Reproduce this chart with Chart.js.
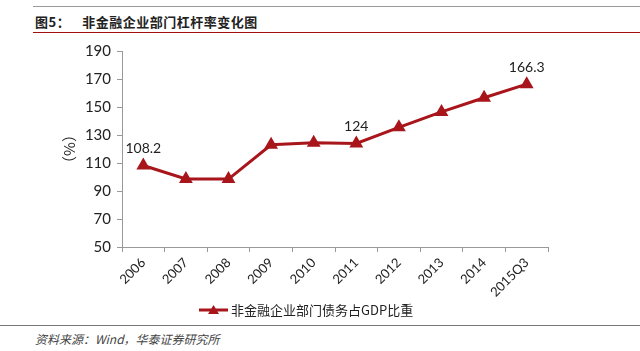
<!DOCTYPE html>
<html>
<head>
<meta charset="utf-8">
<script src="https://cdn.jsdelivr.net/npm/chart.js@4"></script>
<style>
body { margin:0; width:640px; height:351px; background:#fff; position:relative; overflow:hidden; font-family:"Noto Sans CJK SC", sans-serif; }
#topline { position:absolute; left:33px; right:0; top:6px; height:1px; background:#9a9a9a; }
#title { position:absolute; left:35px; top:12px; font-size:13px; font-weight:bold; color:#222; letter-spacing:0.5px; }
#title span { margin-left:12px; }
#redline { position:absolute; left:33px; right:0; top:32px; height:1px; background:#a01010; }
#box { position:absolute; left:0; top:36px; width:640px; height:290px; }
#botline { position:absolute; left:0; right:0; top:325px; height:1px; background:#777; }
#source { position:absolute; left:35px; top:330px; font-size:12px; font-style:italic; color:#444; }
</style>
</head>
<body>
<div id="topline"></div>
<div id="title">图5：<span>非金融企业部门杠杆率变化图</span></div>
<div id="redline"></div>
<div id="box"><canvas id="myChart"></canvas></div>
<div id="botline"></div>
<div id="source">资料来源：Wind，华泰证券研究所</div>
<script>
var years = ['2006','2007','2008','2009','2010','2011','2012','2013','2014','2015Q3'];
var ratio = [108.2, 98.6, 98.5, 123, 124.5, 124, 135.5, 146.5, 156.6, 166.3];
var shownLabels = {0: '108.2', 5: '124', 9: '166.3'};
var seriesName = '非金融企业部门债务占GDP比重';
var lineColor = '#A8151A';

// etiquetas de valor y leyenda propia
var extras = {
    id: 'extras',
    afterDatasetsDraw: function(chart) {
        var ctx = chart.ctx;
        var meta = chart.getDatasetMeta(0);
        ctx.save();
        ctx.fillStyle = '#222';
        ctx.font = '14px Lato, "Noto Sans", sans-serif';
        ctx.textAlign = 'center';
        ctx.textBaseline = 'bottom';
        Object.keys(shownLabels).forEach(function(i) {
            var p = meta.data[i];
            ctx.fillText(shownLabels[i], p.x, p.y - 10);
        });
        // leyenda
        var ly = 274, lx = 199;
        ctx.strokeStyle = lineColor;
        ctx.lineWidth = 3;
        ctx.beginPath(); ctx.moveTo(lx, ly); ctx.lineTo(lx + 29, ly); ctx.stroke();
        ctx.fillStyle = lineColor;
        ctx.beginPath();
        ctx.moveTo(lx + 14.5, ly - 5); ctx.lineTo(lx + 20, ly + 4); ctx.lineTo(lx + 9, ly + 4);
        ctx.closePath(); ctx.fill();
        ctx.fillStyle = '#222';
        ctx.font = '13px "Noto Sans CJK SC", sans-serif';
        ctx.textAlign = 'left';
        ctx.textBaseline = 'middle';
        ctx.fillText(seriesName, lx + 32, ly);
        ctx.restore();
    }
};

var ctx = document.getElementById('myChart').getContext('2d');
var myChart = new Chart(ctx, {
    type: 'line',
    data: {
        labels: years,
        datasets: [{
            label: seriesName,
            data: ratio,
            borderColor: lineColor,
            backgroundColor: lineColor,
            borderWidth: 3,
            pointStyle: 'triangle',
            pointRadius: 5,
            tension: 0
        }]
    },
    options: {
        responsive: true,
        maintainAspectRatio: false,
        animation: false,
        layout: { padding: { left: 60, right: 92, top: 15, bottom: 0 } },
        plugins: { legend: { display: false }, tooltip: { enabled: false } },
        scales: {
            x: {
                offset: true,
                afterFit: function(s) { s.height = 79; },
                grid: { offset: true, drawOnChartArea: false, drawTicks: true, tickLength: 5, color: '#999' },
                border: { color: '#999' },
                ticks: { maxRotation: 45, minRotation: 45, color: '#222', font: { size: 13, family: 'Lato, "Noto Sans", sans-serif' } }
            },
            y: {
                min: 50, max: 190,
                afterFit: function(s) { s.width = 62; },
                grid: { drawOnChartArea: false, drawTicks: true, tickLength: 5, color: '#999' },
                border: { color: '#999' },
                ticks: { stepSize: 20, color: '#222', padding: 6, font: { size: 15, family: 'Lato, "Noto Sans", sans-serif' } },
                title: { display: true, text: '（%）', color: '#222', padding: { top: 0, bottom: 4 }, font: { size: 15, family: '"Noto Sans CJK SC", sans-serif' } }
            }
        }
    },
    plugins: [extras]
});
</script>
</body>
</html>
